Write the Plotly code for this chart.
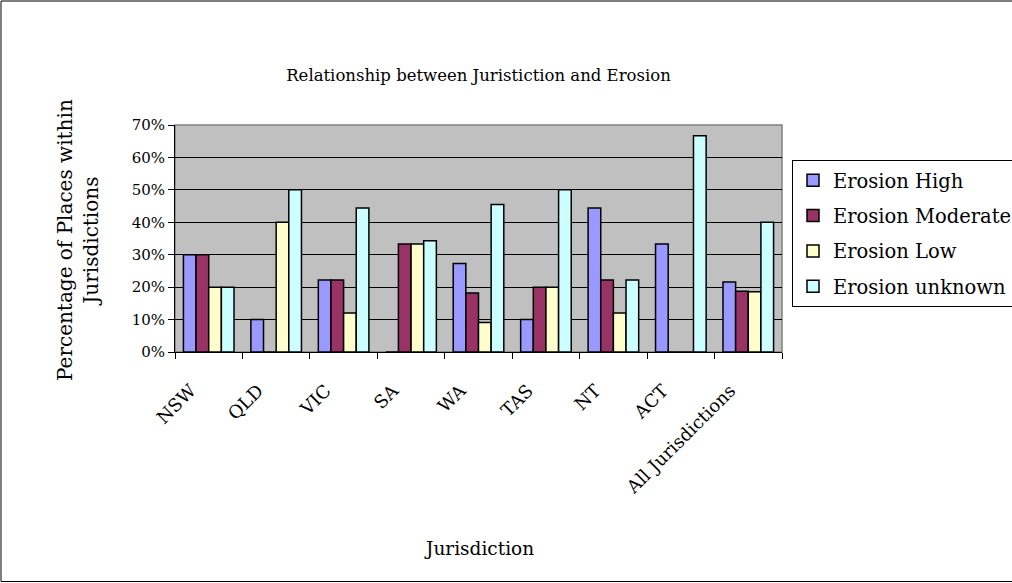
import plotly.graph_objects as go

# Share of places in each jurisdiction by erosion rating
jurisdictions = ["NSW", "QLD", "VIC", "SA", "WA", "TAS", "NT", "ACT", "All Jurisdictions"]
erosion_high = [0.30, 0.10, 0.222, 0.0, 0.273, 0.10, 0.444, 0.333, 0.216]
erosion_moderate = [0.30, 0.0, 0.222, 0.333, 0.182, 0.20, 0.222, 0.0, 0.187]
erosion_low = [0.20, 0.40, 0.12, 0.333, 0.091, 0.20, 0.12, 0.0, 0.186]
erosion_unknown = [0.20, 0.50, 0.444, 0.343, 0.455, 0.50, 0.222, 0.667, 0.40]

series_names = ["Erosion High", "Erosion Moderate", "Erosion Low", "Erosion unknown"]
series_values = [erosion_high, erosion_moderate, erosion_low, erosion_unknown]
series_colors = ["#9999FF", "#993366", "#FFFFCC", "#CCFFFF"]

FONT = "Palatino Linotype, Book Antiqua, Palatino, DejaVu Serif, serif"

fig = go.Figure()
for name, vals, col in zip(series_names, series_values, series_colors):
    fig.add_trace(go.Bar(
        x=jurisdictions, y=vals, name=name, legendgroup=name,
        marker=dict(color=col, line=dict(color="black", width=1.5)),
    ))

W, H = 1012, 583
L, R, T, B = 175, 230, 125, 231
pw, ph = W - L - R, H - T - B


def px_x(x):
    return (x - L) / pw


def px_y(y):
    return (H - B - y) / ph


fig.update_layout(
    width=W, height=H,
    margin=dict(l=L, r=R, t=T, b=B, autoexpand=False),
    paper_bgcolor="white",
    plot_bgcolor="#C0C0C0",
    font=dict(family=FONT, color="black", size=16),
    barmode="group", bargap=0.25, bargroupgap=0,
    title=dict(text="Relationship between Juristiction and Erosion",
               x=0.5, xref="paper", xanchor="center",
               y=1 - 75 / H, yanchor="middle",
               font=dict(family=FONT, size=16.5, color="black")),
    legend=dict(xref="container", yref="container",
                x=792 / W, y=1 - 160 / H, xanchor="left", yanchor="top",
                bgcolor="white", bordercolor="black", borderwidth=1,
                font=dict(family=FONT, size=19.5, color="black"),
                tracegroupgap=7, traceorder="grouped"),
    showlegend=True,
)

fig.update_xaxes(
    type="category", tickson="boundaries", ticks="outside", ticklen=6,
    tickcolor="black", tickangle=-45, showline=True, linecolor="black",
    linewidth=1, showgrid=False, tickfont=dict(family=FONT, size=18),
    ticklabelstandoff=20, ticklabelshift=-18, automargin=False,
)
fig.update_yaxes(
    range=[0, 0.7], dtick=0.1, tickformat=".0%", ticks="outside", ticklen=6,
    tickcolor="black", showline=True, linecolor="black", linewidth=1,
    showgrid=True, gridcolor="black", gridwidth=1, zeroline=False,
    tickfont=dict(family=FONT, size=15), automargin=False,
)

# Gray frame around the plotting area (top and right edges)
fig.add_shape(type="rect", xref="paper", yref="paper", x0=0, x1=1, y0=0, y1=1,
              line=dict(color="#808080", width=1.5), layer="below")
# Thin frame around the whole chart
fig.add_shape(type="rect", xref="paper", yref="paper",
              x0=px_x(1), x1=px_x(1100), y0=px_y(581.5), y1=px_y(1),
              line=dict(color="black", width=1))

# Axis titles
fig.add_annotation(text="Percentage of Places within<br>Jurisdictions",
                   xref="paper", yref="paper", x=px_x(78), y=px_y(240),
                   xanchor="center", yanchor="middle",
                   textangle=-90, showarrow=False,
                   font=dict(family=FONT, size=20, color="black"))
fig.add_annotation(text="Jurisdiction", xref="paper", yref="paper",
                   x=0.5, y=px_y(548), xanchor="center", yanchor="middle",
                   showarrow=False,
                   font=dict(family=FONT, size=18.5, color="black"))

fig.write_html("out.html")
